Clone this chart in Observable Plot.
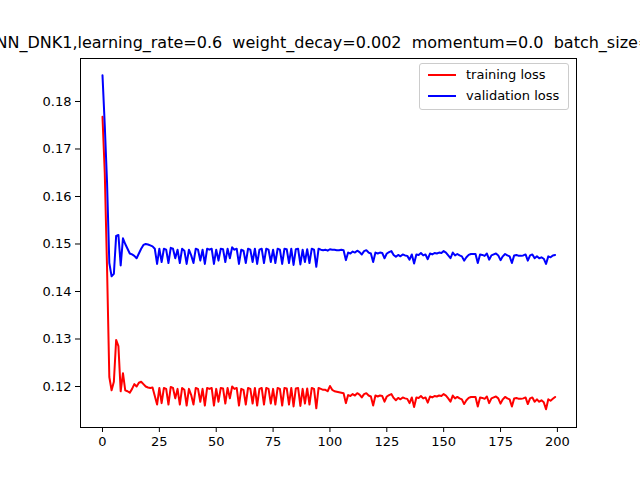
<!DOCTYPE html>
<html><head><meta charset="utf-8">
<script src="https://cdn.jsdelivr.net/npm/d3@7"></script>
<script src="https://cdn.jsdelivr.net/npm/@observablehq/plot@0.6"></script>
<style>
body{margin:0;width:640px;height:480px;overflow:hidden;position:relative;background:#fff;font-family:"DejaVu Sans",sans-serif}
#title{position:absolute;top:33px;left:-272px;width:1200px;text-align:center;font-family:"DejaVu Sans";font-size:16px;white-space:nowrap}
#legend{position:absolute;left:419px;top:63px;width:148px;height:45px;border:1px solid #ccc;border-radius:3px;background:rgba(255,255,255,0.8);font-size:13px}
.row{position:absolute;left:8px;display:flex;align-items:center}
.sw{width:28px;height:0;border-top:2px solid;margin-right:10px}
</style></head><body>
<div id="chart"></div>
<div id="title">CNN_DNK1,learning_rate=0.6&nbsp; weight_decay=0.002&nbsp; momentum=0.0&nbsp; batch_size=64</div>
<div id="legend">
<div class="row" style="top:3px"><div class="sw" style="border-color:red"></div>training loss</div>
<div class="row" style="top:24px"><div class="sw" style="border-color:blue"></div>validation loss</div>
</div>
<script>
const trainingLoss=[.1768,.165,.145,.122,.1192,.121,.1298,.1285,.119,.1228,.1192,.119,.1187,.1195,.1205,.120,.1208,.121,.1205,.120,.1198,.1197,.1198,.118,
.1162,.1197,.1165,.1197,.1195,.1162,.1199,.1197,.1175,.1195,.1162,.1197,.1193,.1160,.1195,.1182,.1162,.1197,.1195,.1168,.1195,.1160,.1197,.1195,.1197,.1160,.1195,.1168,.1197,.1196,.1164,.1197,.1175,.1200,.1195,.1197,.1160,.1195,.1193,.1162,.1197,.1195,.1164,.1197,.1160,.1195,.1197,.1162,.1197,.1195,.1164,.1195,.1162,.1197,.1195,.1160,.1197,.1196,.1162,.1197,.1158,.1196,.1197,.1159,.1195,.1164,.1196,.1162,.1197,.1195,.1154,.1197,.1195,.1193,.1193,.1190,
.1201,.1193,.1190,.1189,.1188,.1187,.1186,.1165,.1182,.1180,.1184,.1181,.1186,.1183,.1177,.1184,.1186,.1181,.1179,.1160,.1181,.1179,.1181,.1180,.1168,.1179,.1182,.1184,.1176,.1171,.1176,.1173,.1177,.1175,.1174,.1165,.1177,.1157,.1177,.1176,.1180,.1175,.1177,.1166,.1179,.1177,.1180,.1179,.1181,.1180,.1184,.1181,.1175,.1168,.1181,.1175,.1178,.1175,.1173,.1163,.1171,.1176,.1178,.1178,.1178,.1158,.1177,.1176,.1174,.1179,.1165,.1175,.1177,.1179,.1175,.1164,.1173,.1178,.1175,.1173,.1158,.1175,.1176,.1174,.1174,.1175,.1177,.1163,.1175,.1177,.1168,.1173,.1168,.1171,.1167,.1152,.1173,.1170,.1174,.1178];
const validationLoss=[.1855,.175,.163,.146,.1432,.1437,.1517,.1519,.1455,.1512,.150,.149,.148,.1478,.1475,.147,.148,.149,.1498,.150,.1499,.1497,.1495,.149,
.1458,.1490,.1462,.1490,.1488,.1460,.1492,.1490,.1470,.1488,.1460,.1490,.1486,.1458,.1488,.1476,.1460,.1490,.1488,.1465,.1488,.1458,.1490,.1488,.1490,.1458,.1488,.1465,.1490,.1489,.1462,.1490,.1470,.1493,.1488,.1490,.1458,.1488,.1486,.1460,.1490,.1488,.1462,.1490,.1458,.1488,.1490,.1460,.1490,.1488,.1462,.1488,.1460,.1490,.1488,.1458,.1490,.1489,.1460,.1490,.1456,.1489,.1490,.1457,.1488,.1462,.1489,.1460,.1490,.1488,.1452,.1490,.1488,.1487,.1488,.1486,
.1489,.1488,.1488,.1487,.1487,.1488,.1487,.1466,.1482,.1480,.1484,.1482,.1486,.1483,.1478,.1485,.1487,.1482,.1480,.1462,.1482,.1480,.1482,.1481,.1470,.1480,.1483,.1485,.1477,.1473,.1477,.1474,.1478,.1476,.1475,.1467,.1478,.1459,.1478,.1477,.1481,.1476,.1478,.1468,.1480,.1478,.1481,.1480,.1482,.1481,.1485,.1482,.1476,.1470,.1482,.1476,.1479,.1476,.1474,.1465,.1472,.1477,.1479,.1479,.1479,.1460,.1478,.1477,.1475,.1480,.1467,.1476,.1478,.1480,.1476,.1466,.1474,.1479,.1476,.1474,.1460,.1476,.1477,.1475,.1475,.1476,.1478,.1465,.1476,.1478,.1470,.1474,.1470,.1472,.1469,.1458,.1474,.1472,.1476,.1477];
const xTicks=[0,25,50,75,100,125,150,175,200];
const yTicks=[0.12,0.13,0.14,0.15,0.16,0.17,0.18];
const epochs=trainingLoss.map((_,i)=>i);
const plot=Plot.plot({
  width:640,height:480,marginLeft:80,marginRight:64,marginTop:58,marginBottom:53,
  style:{fontFamily:"DejaVu Sans",fontSize:"13px",color:"black"},
  x:{domain:[-9.67,208.4],ticks:xTicks,label:null,tickSize:5},
  y:{domain:[0.11137,0.18905],ticks:yTicks,label:null,tickSize:5,tickFormat:d3.format(".2f")},
  marks:[
    Plot.frame({stroke:"black"}),
    Plot.line(epochs,{x:d=>d,y:d=>trainingLoss[d],stroke:"red",strokeWidth:2}),
    Plot.line(epochs,{x:d=>d,y:d=>validationLoss[d],stroke:"blue",strokeWidth:2})
  ]
});
document.getElementById("chart").appendChild(plot);
</script></body></html>
